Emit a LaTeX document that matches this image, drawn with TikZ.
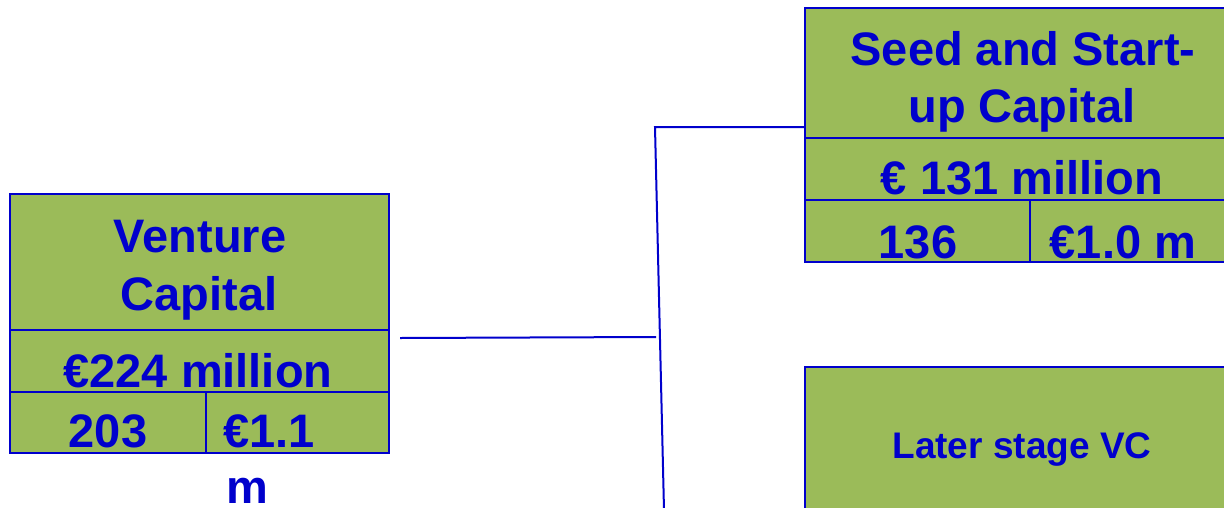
\documentclass[tikz,border=0pt]{standalone}
\usepackage{fontspec}
\setmainfont{Liberation Sans}
\usetikzlibrary{positioning}
\definecolor{cellgreen}{HTML}{9BBB59}
\definecolor{inkblue}{HTML}{0000CC}
\tikzset{
  cell/.style={
    rectangle,
    anchor=north west,
    draw=inkblue,
    line width=2pt,
    fill=cellgreen,
    inner sep=0pt,
    outer sep=0pt,
  },
  big text/.style={
    font=\fontsize{47}{57}\selectfont\bfseries,
    text=inkblue,
    anchor=base,
    inner sep=0pt,
  },
  small text/.style={
    font=\fontsize{37}{44}\selectfont\bfseries,
    text=inkblue,
    anchor=base,
    inner sep=0pt,
  },
  link/.style={draw=inkblue, line width=2pt},
}

\begin{document}
\begin{tikzpicture}[x=1pt, y=-1pt]
  \useasboundingbox (0,0) rectangle (1224,507);
  \clip (0,0) rectangle (1224,507);

  % venture capital
  \node[cell, minimum width=379pt, minimum height=136pt] (vc title) at (10,194) {};
  \node[cell, minimum width=379pt, minimum height=62pt] (vc amount) at (vc title.south west) {};
  \node[cell, minimum width=196pt, minimum height=61pt] (vc count) at (vc amount.south west) {};
  \node[cell, minimum width=183pt, minimum height=61pt] (vc avg) at (vc count.north east) {};

  \node[big text] (vc name1) at (200,252) {Venture};
  \node[big text] (vc name2) at (199,310) {Capital};
  \node[big text] (vc sum) at (198,387) {€224 million};
  \node[big text] (vc num) at (108,447) {203};
  \node[big text] (vc mean1) at (269,447) {€1.1};
  \node[big text] (vc mean2) at (247,503) {m};

  % seed and start-up
  \node[cell, minimum width=435pt, minimum height=130pt] (seed title) at (805,8) {};
  \node[cell, minimum width=435pt, minimum height=62pt] (seed amount) at (seed title.south west) {};
  \node[cell, minimum width=225pt, minimum height=62pt] (seed count) at (seed amount.south west) {};
  \node[cell, minimum width=210pt, minimum height=62pt] (seed avg) at (seed count.north east) {};

  \node[big text] (seed name1) at (1023,65) {Seed and Start-};
  \node[big text] (seed name2) at (1022,122) {up Capital};
  \node[big text] (seed sum) at (1022,194) {€ 131 million};
  \node[big text] (seed num) at (918,258) {136};
  \node[big text] (seed mean) at (1123,258) {€1.0 m};

  % later stage
  \node[cell, minimum width=435pt, minimum height=200pt] (later) at (805,367) {};
  \node[small text] (later name) at (1022,458) {Later stage VC};

  % connectors
  \coordinate (vc out) at (400,338);
  \coordinate (fork mid) at (656,337);
  \coordinate (fork top) at (655,127);
  \coordinate (fork end) at (664,510);
  \coordinate (seed in) at (seed title.west |- fork top);

  \draw[link] (vc out) -- (fork mid);
  \draw[link] (seed in) -- (fork top) -- (fork end);
\end{tikzpicture}
\end{document}
